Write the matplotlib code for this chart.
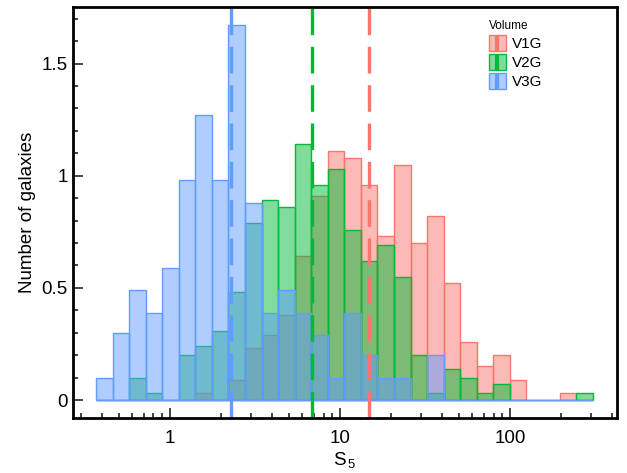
import numpy as np
import matplotlib
matplotlib.use("Agg")
import matplotlib.pyplot as plt
from matplotlib.patches import Patch, Rectangle
from matplotlib.lines import Line2D
from matplotlib.legend_handler import HandlerBase
from matplotlib.ticker import MultipleLocator, FuncFormatter, LogLocator

plt.rcParams['font.family'] = ['Liberation Sans', 'DejaVu Sans']
plt.rcParams['mathtext.default'] = 'regular'

# --- histogram data (density per log bin) ---
bin_lo, bin_hi, n_bins = 0.367, 306.0, 30
edges = np.geomspace(bin_lo, bin_hi, n_bins + 1)

volumes = ["V1G", "V2G", "V3G"]
v1g = [0, 0, 0, 0, 0, 0, 0.03, 0, 0.09, 0.23, 0.29, 0.38, 0.64, 0.91, 1.11,
       1.08, 0.96, 0.73, 1.05, 0.70, 0.82, 0.52, 0.26, 0.15, 0.20, 0.09, 0, 0, 0.03, 0]
v2g = [0, 0, 0.10, 0.03, 0, 0.20, 0.24, 0.31, 0.48, 0.79, 0.89, 0.86, 1.14, 0.96, 1.03,
       0.76, 0.62, 0.69, 0.55, 0.20, 0.03, 0.14, 0.10, 0.03, 0.07, 0, 0, 0, 0, 0.03]
v3g = [0.10, 0.30, 0.49, 0.39, 0.59, 0.98, 1.27, 0.98, 1.67, 0.88, 0.39, 0.49, 0.39, 0.29, 0.10,
       0.39, 0.20, 0.10, 0.10, 0, 0.20, 0, 0, 0, 0, 0, 0, 0, 0, 0]
medians = [14.8, 6.87, 2.28]
colors = ["#F8766D", "#00BA38", "#619CFF"]


class BoxWithMedian(HandlerBase):
    """Legend key: filled box with a vertical median line through it."""
    def create_artists(self, legend, orig_handle, xdescent, ydescent,
                       width, height, fontsize, trans):
        c = orig_handle.get_edgecolor()
        rect = Rectangle((-xdescent, -ydescent), width, height,
                         facecolor=orig_handle.get_facecolor(), edgecolor=c,
                         linewidth=1.0, transform=trans)
        xm = -xdescent + width / 2
        line = Line2D([xm, xm], [-ydescent, -ydescent + height],
                      color=c[:3], linewidth=3.0, solid_capstyle='butt',
                      transform=trans)
        return [rect, line]


fig = plt.figure(figsize=(6.27, 4.73), dpi=100)
ax = fig.add_axes([0.116, 0.1163, 0.8676, 0.8683])

widths = np.diff(edges)
for h, c in zip([v1g, v2g, v3g], colors):
    ax.bar(edges[:-1], h, width=widths, align='edge', color=(c, 0.5),
           edgecolor=c, linewidth=1.0)

for m, c in zip(medians, colors):
    ax.axvline(m, color=c, linestyle=(0, (8, 3.5)), linewidth=2.4)

ax.set_xscale('log')
ax.set_xlim(0.268, 424)
ax.set_ylim(-0.08, 1.751)

ax.yaxis.set_major_locator(MultipleLocator(0.5))
ax.yaxis.set_minor_locator(MultipleLocator(0.1))
ax.xaxis.set_major_locator(LogLocator(base=10))
ax.xaxis.set_minor_locator(LogLocator(base=10, subs=np.arange(2, 10)))
fmt = FuncFormatter(lambda v, p: f"{v:g}")
ax.xaxis.set_major_formatter(fmt)
ax.yaxis.set_major_formatter(fmt)

ax.tick_params(which='both', direction='in', top=False, right=False,
               labelsize=13.5, width=1.2, color='#222222')
ax.tick_params(which='major', length=7)
ax.tick_params(which='minor', length=3.6)
ax.tick_params(axis='x', pad=9)
for s in ax.spines.values():
    s.set_linewidth(2.0)

ax.set_xlabel(r"S$_{\,5}$", fontsize=13.5, labelpad=2)
ax.set_ylabel("Number of galaxies", fontsize=13.5, labelpad=4)

handles = [Patch(facecolor=(c, 0.5), edgecolor=c) for c in colors]
leg = ax.legend(handles, volumes, title="Volume", loc='upper left',
                bbox_to_anchor=(0.745, 0.995), frameon=False, fontsize=11,
                title_fontsize=8.5, handlelength=1.15, handleheight=1.2,
                labelspacing=0.2, handletextpad=0.4, borderpad=0.2,
                alignment='left', handler_map={Patch: BoxWithMedian()})

fig.savefig("out.png", dpi=100)
